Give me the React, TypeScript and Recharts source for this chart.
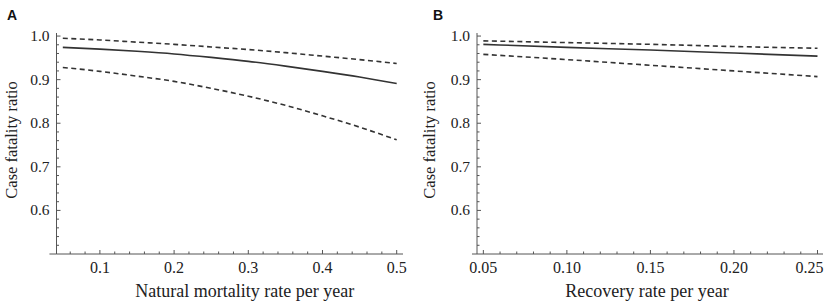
import React from 'react';
import { LineChart, Line, XAxis, YAxis, ReferenceLine } from 'recharts';

// Panel A: natural mortality rate per year
const mortalityRate = [0.05, 0.1, 0.15, 0.2, 0.25, 0.3, 0.35, 0.4, 0.45, 0.5];
const cfrA = [0.974, 0.970, 0.965, 0.959, 0.951, 0.942, 0.931, 0.919, 0.906, 0.891];
const upperA = [0.995, 0.991, 0.986, 0.981, 0.975, 0.969, 0.962, 0.954, 0.946, 0.937];
const lowerA = [0.928, 0.919, 0.908, 0.896, 0.880, 0.862, 0.841, 0.817, 0.791, 0.762];

// Panel B: recovery rate per year
const recoveryRate = [0.05, 0.1, 0.15, 0.2, 0.25];
const cfrB = [0.981, 0.974, 0.968, 0.961, 0.954];
const upperB = [0.989, 0.985, 0.981, 0.976, 0.972];
const lowerB = [0.958, 0.946, 0.933, 0.920, 0.907];

const xLabelsA = ['0.1', '0.2', '0.3', '0.4', '0.5'];
const xLabelsB = ['0.05', '0.10', '0.15', '0.20', '0.25'];
const yLabels = ['0.6', '0.7', '0.8', '0.9', '1.0'];

const range = (a: number, b: number, step: number) => {
  const out: number[] = [];
  const n = Math.round((b - a) / step);
  for (let i = 0; i <= n; i++) out.push(Math.round((a + i * step) * 1000) / 1000);
  return out;
};

const ticksXA = range(0.06, 0.5, 0.02);
const ticksXB = range(0.05, 0.25, 0.01);
const ticksY = range(0.52, 1.0, 0.02);

const dataA = mortalityRate.map((x, i) => ({ x, cfr: cfrA[i], up: upperA[i], lo: lowerA[i] }));
const dataB = recoveryRate.map((x, i) => ({ x, cfr: cfrB[i], up: upperB[i], lo: lowerB[i] }));

const AXIS = '#555';
const FONT = '"Liberation Serif", "DejaVu Serif", serif';

const findLabel = (v: number, labels: string[]) =>
  labels.find((l) => Math.abs(parseFloat(l) - v) < 1e-6);

const makeXTick = (labels: string[], lastShift: number) => (props: any) => {
  const { x, y, payload } = props;
  const lab = findLabel(payload.value, labels);
  const isLast = lab === labels[labels.length - 1];
  return (
    <g>
      <line x1={x} y1={y} x2={x} y2={y - (lab ? 4 : 2.5)} stroke={AXIS} strokeWidth={1} />
      {lab && (
        <text
          x={x + (isLast ? lastShift : 0)}
          y={y + 19}
          textAnchor="middle"
          fontFamily={FONT}
          fontSize={16}
          fill="#222"
        >
          {lab}
        </text>
      )}
    </g>
  );
};

const YTick = (props: any) => {
  const { x, y, payload } = props;
  const lab = findLabel(payload.value, yLabels);
  return (
    <g>
      <line x1={x} y1={y} x2={x + (lab ? 4 : 2.5)} y2={y} stroke={AXIS} strokeWidth={1} />
      {lab && (
        <text x={x - 7} y={y + 5} textAnchor="end" fontFamily={FONT} fontSize={15.5} fill="#222">
          {lab}
        </text>
      )}
    </g>
  );
};

const XTickA = makeXTick(xLabelsA, 0);
const XTickB = makeXTick(xLabelsB, -8);

const lineProps = {
  type: 'monotone' as const,
  dot: false,
  isAnimationActive: false,
  activeDot: false,
};

const Panel = ({
  data,
  xDomain,
  xTicks,
  XTick,
  title,
  yAxisWidth,
  rightMargin,
  titleDx,
  extLeft,
}: any) => (
  <LineChart
    width={415}
    height={305}
    data={data}
    margin={{ top: 33, right: rightMargin, bottom: 0, left: 0 }}
  >
    <XAxis
      dataKey="x"
      type="number"
      domain={xDomain}
      ticks={xTicks}
      interval={0}
      allowDataOverflow
      height={51}
      tickSize={0}
      tickMargin={0}
      tickLine={false}
      axisLine={{ stroke: AXIS, strokeWidth: 1 }}
      tick={<XTick />}
      label={{
        value: title,
        position: 'insideBottom',
        offset: 8,
        dx: titleDx,
        style: { fontFamily: FONT, fontSize: 18, fill: '#222' },
      }}
    />
    <YAxis
      type="number"
      domain={[0.5, 1.007]}
      ticks={ticksY}
      interval={0}
      allowDataOverflow
      width={yAxisWidth}
      tickSize={0}
      tickMargin={0}
      tickLine={false}
      axisLine={{ stroke: AXIS, strokeWidth: 1 }}
      tick={<YTick />}
    />
    <ReferenceLine
      segment={[
        { x: extLeft, y: 0.5 },
        { x: xDomain[0], y: 0.5 },
      ]}
      stroke={AXIS}
      strokeWidth={1}
      ifOverflow="visible"
    />
    <Line {...lineProps} dataKey="up" stroke="#333" strokeWidth={1.6} strokeDasharray="5 3.5" />
    <Line {...lineProps} dataKey="cfr" stroke="#333" strokeWidth={1.6} />
    <Line {...lineProps} dataKey="lo" stroke="#333" strokeWidth={1.6} strokeDasharray="5 3.5" />
  </LineChart>
);

const panelLetter: React.CSSProperties = {
  position: 'absolute',
  fontFamily: '"Liberation Sans", Arial, sans-serif',
  fontWeight: 'bold',
  fontSize: 14,
  lineHeight: '14px',
  color: '#111',
};

const yTitle: React.CSSProperties = {
  position: 'absolute',
  fontFamily: FONT,
  fontSize: 16.5,
  color: '#222',
  whiteSpace: 'nowrap',
  transform: 'translate(-50%, -50%) rotate(-90deg)',
};

export default function App() {
  return (
    <div style={{ position: 'absolute', left: 0, top: 0, width: 829, height: 305, background: '#fff', overflow: 'hidden' }}>
      <div style={{ position: 'absolute', left: 0, top: 0 }}>
        <Panel
          data={dataA}
          xDomain={[0.0415, 0.5085]}
          xTicks={ticksXA}
          XTick={XTickA}
          title="Natural mortality rate per year"
          yAxisWidth={56.5}
          rightMargin={12}
          titleDx={15}
          extLeft={0.032}
        />
      </div>
      <div style={{ position: 'absolute', left: 414, top: 0 }}>
        <Panel
          data={dataB}
          xDomain={[0.0462, 0.2533]}
          xTicks={ticksXB}
          XTick={XTickB}
          title="Recovery rate per year"
          yAxisWidth={63}
          rightMargin={6}
          titleDx={-3}
          extLeft={0.0432}
        />
      </div>
      <div style={{ ...panelLetter, left: 7, top: 8 }}>A</div>
      <div style={{ ...panelLetter, left: 433, top: 8 }}>B</div>
      <div style={{ ...yTitle, left: 12, top: 140 }}>Case fatality ratio</div>
      <div style={{ ...yTitle, left: 430, top: 140 }}>Case fatality ratio</div>
    </div>
  );
}
